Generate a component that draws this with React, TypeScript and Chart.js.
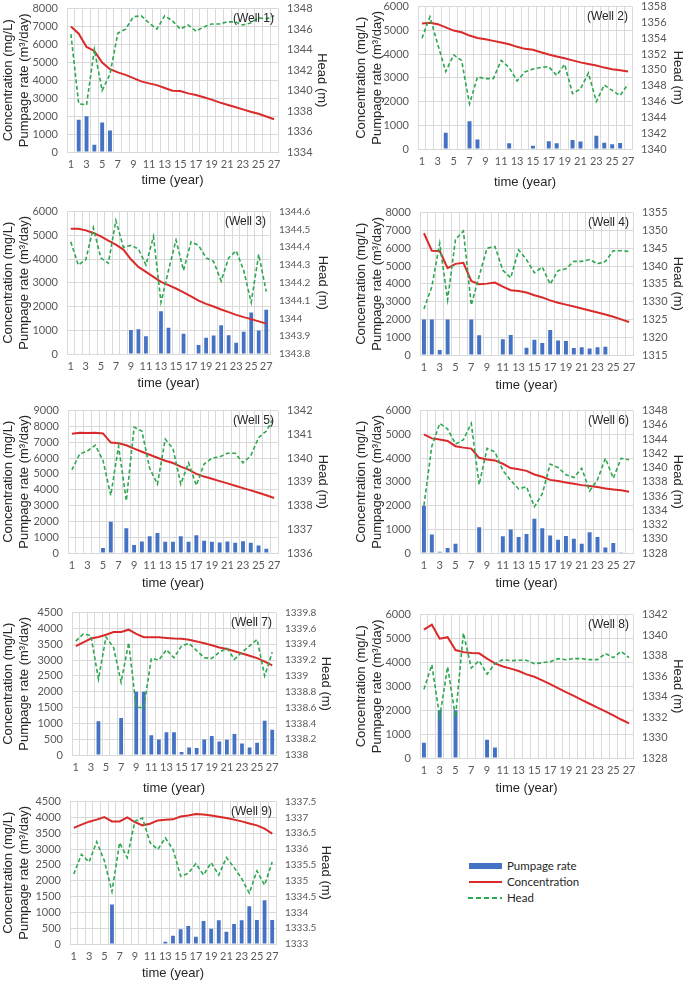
import React, { useEffect, useRef } from 'react';
import Chart from 'chart.js/auto';

const years = ['1', '2', '3', '4', '5', '6', '7', '8', '9', '10', '11', '12', '13', '14', '15', '16', '17', '18', '19', '20', '21', '22', '23', '24', '25', '26', '27'];

// Well 1
const pump1 = [0, 1800, 2000, 400, 1650, 1200, 0, 0, 0, 0, 0, 0, 0, 0, 0, 0, 0, 0, 0, 0, 0, 0, 0, 0, 0, 0, 0];
const conc1 = [7000, 6600, 5860, 5640, 4990, 4620, 4440, 4300, 4120, 3940, 3830, 3730, 3570, 3420, 3400, 3270, 3180, 3050, 2920, 2770, 2640, 2510, 2380, 2250, 2130, 1980, 1830];
const head1 = [1345.5, 1338.7, 1338.6, 1344.0, 1340.0, 1341.6, 1345.6, 1346.0, 1347.2, 1347.3, 1346.6, 1346.0, 1347.3, 1346.8, 1346.0, 1346.4, 1345.8, 1346.2, 1346.5, 1346.5, 1346.7, 1346.7, 1346.4, 1346.6, 1347.1, 1347.0, 1347.3];

// Well 2
const pump2 = [0, 0, 0, 680, 0, 0, 1170, 400, 0, 0, 0, 240, 0, 0, 140, 0, 330, 240, 0, 375, 320, 0, 555, 265, 195, 250, 0];
const conc2 = [5290, 5320, 5260, 5125, 4990, 4920, 4780, 4680, 4625, 4555, 4490, 4415, 4305, 4220, 4180, 4080, 3985, 3900, 3820, 3735, 3650, 3580, 3515, 3430, 3360, 3320, 3265];
const head2 = [1354.0, 1356.7, 1353.2, 1349.8, 1351.9, 1351.2, 1345.7, 1349.1, 1348.9, 1348.9, 1351.2, 1350.3, 1348.6, 1349.75, 1350.1, 1350.3, 1350.4, 1349.3, 1350.7, 1347.0, 1347.6, 1349.6, 1346.0, 1348.1, 1347.4, 1346.75, 1348.2];

// Well 3
const pump3 = [0, 0, 0, 0, 0, 0, 0, 0, 1010, 1040, 750, 0, 1800, 1110, 0, 850, 0, 375, 680, 780, 1210, 790, 470, 940, 1750, 990, 1860];
const conc3 = [5280, 5280, 5210, 5100, 4960, 4780, 4610, 4400, 3990, 3670, 3460, 3250, 3040, 2900, 2760, 2600, 2430, 2250, 2110, 2000, 1875, 1765, 1650, 1555, 1470, 1375, 1280];
const head3 = [1344.43, 1344.30, 1344.33, 1344.51, 1344.34, 1344.31, 1344.55, 1344.40, 1344.41, 1344.39, 1344.30, 1344.46, 1344.09, 1344.27, 1344.44, 1344.27, 1344.43, 1344.41, 1344.34, 1344.32, 1344.21, 1344.34, 1344.38, 1344.27, 1344.09, 1344.36, 1344.15];

// Well 4
const pump4 = [2000, 2000, 280, 2000, 0, 0, 2000, 1110, 0, 0, 890, 1130, 0, 410, 850, 670, 1400, 810, 780, 390, 440, 370, 440, 460, 0, 0, 0];
const conc4 = [6840, 5860, 5840, 4880, 5120, 5180, 4160, 3970, 4010, 4070, 3840, 3640, 3600, 3510, 3360, 3235, 3070, 2940, 2830, 2720, 2610, 2500, 2385, 2275, 2145, 2000, 1850];
const head4 = [1327.9, 1334.2, 1346.4, 1330.5, 1347.5, 1349.8, 1329.0, 1337.2, 1345.0, 1345.5, 1338.8, 1336.7, 1344.5, 1341.8, 1338.1, 1339.7, 1334.9, 1338.7, 1339.2, 1341.3, 1341.3, 1341.8, 1340.6, 1341.3, 1344.3, 1344.3, 1344.1];

// Well 5
const pump5 = [0, 0, 0, 0, 310, 1980, 0, 1560, 500, 730, 1060, 1270, 710, 710, 1060, 710, 1125, 770, 710, 670, 730, 650, 750, 650, 480, 270, 0];
const conc5 = [7540, 7600, 7580, 7600, 7560, 6980, 6940, 6810, 6600, 6400, 6210, 6020, 5830, 5690, 5460, 5270, 5000, 4830, 4690, 4540, 4400, 4250, 4100, 3960, 3810, 3650, 3480];
const head5 = [1339.5, 1340.17, 1340.3, 1340.54, 1339.9, 1338.43, 1340.5, 1338.2, 1341.3, 1341.14, 1339.57, 1338.9, 1340.8, 1340.4, 1338.9, 1339.8, 1338.85, 1339.75, 1340.0, 1340.05, 1340.2, 1340.2, 1339.8, 1340.1, 1340.86, 1341.14, 1341.72];

// Well 6
const pump6 = [1990, 780, 55, 210, 390, 0, 0, 1080, 0, 0, 710, 985, 670, 800, 1440, 1040, 735, 555, 720, 600, 390, 875, 670, 235, 420, 30, 0];
const conc6 = [5000, 4830, 4780, 4720, 4500, 4440, 4400, 4010, 3940, 3900, 3760, 3580, 3530, 3460, 3310, 3210, 3080, 3030, 2970, 2920, 2860, 2820, 2780, 2720, 2680, 2640, 2580];
const head6 = [1334.7, 1343.0, 1346.2, 1345.4, 1343.3, 1343.9, 1346.2, 1337.6, 1342.7, 1342.2, 1339.6, 1338.2, 1337.0, 1337.3, 1334.5, 1336.3, 1340.5, 1340.0, 1339.0, 1338.6, 1339.9, 1336.7, 1338.3, 1341.3, 1338.5, 1341.3, 1341.1];

// Well 7
const pump7 = [0, 0, 0, 1070, 0, 0, 1170, 0, 2000, 2000, 625, 490, 720, 720, 95, 240, 220, 490, 600, 430, 480, 660, 365, 240, 385, 1080, 800];
const conc7 = [3440, 3560, 3680, 3730, 3800, 3885, 3885, 3960, 3830, 3720, 3720, 3720, 3700, 3680, 3670, 3640, 3590, 3530, 3470, 3400, 3350, 3280, 3210, 3135, 3060, 2950, 2830];
const head7 = [1339.44, 1339.53, 1339.51, 1338.96, 1339.49, 1339.36, 1338.92, 1339.42, 1338.6, 1338.6, 1339.22, 1339.2, 1339.33, 1339.23, 1339.38, 1339.41, 1339.32, 1339.23, 1339.22, 1339.3, 1339.35, 1339.21, 1339.3, 1339.38, 1339.46, 1339.0, 1339.3];

// Well 8
const pump8 = [640, 0, 1995, 0, 2000, 0, 0, 0, 760, 440, 0, 0, 0, 0, 0, 0, 0, 0, 0, 0, 0, 0, 0, 0, 0, 0, 0];
const conc8 = [5370, 5580, 4990, 5055, 4515, 4430, 4390, 4380, 4155, 3960, 3830, 3740, 3640, 3500, 3400, 3250, 3090, 2920, 2760, 2600, 2430, 2270, 2110, 1950, 1780, 1610, 1450];
const head8 = [1334.7, 1337.1, 1332.0, 1336.9, 1332.0, 1340.2, 1336.8, 1337.5, 1336.2, 1337.2, 1337.6, 1337.5, 1337.55, 1337.55, 1337.2, 1337.3, 1337.4, 1337.7, 1337.6, 1337.7, 1337.7, 1337.6, 1337.6, 1338.2, 1337.8, 1338.4, 1337.8];

// Well 9
const pump9 = [0, 0, 0, 0, 0, 1250, 0, 0, 0, 0, 0, 0, 75, 260, 470, 570, 230, 730, 480, 750, 385, 635, 750, 1190, 760, 1385, 760];
const conc9 = [3670, 3770, 3865, 3930, 4010, 3875, 3875, 4000, 3855, 3750, 3800, 3905, 3930, 3940, 4030, 4060, 4105, 4095, 4060, 4020, 3980, 3930, 3875, 3810, 3750, 3645, 3490];
const head9 = [1335.21, 1335.83, 1335.59, 1336.23, 1335.63, 1334.66, 1336.2, 1335.73, 1336.88, 1336.98, 1336.2, 1335.99, 1336.35, 1335.99, 1335.14, 1335.23, 1335.54, 1335.18, 1335.57, 1335.18, 1335.73, 1335.42, 1335.07, 1334.61, 1335.31, 1334.86, 1335.59];

const wells = [
  { label: '(Well 1)', pump: pump1, conc: conc1, head: head1, concMax: 8000, concStep: 1000, headMin: 1334, headMax: 1348, headStep: 2 },
  { label: '(Well 2)', pump: pump2, conc: conc2, head: head2, concMax: 6000, concStep: 1000, headMin: 1340, headMax: 1358, headStep: 2 },
  { label: '(Well 3)', pump: pump3, conc: conc3, head: head3, concMax: 6000, concStep: 1000, headMin: 1343.8, headMax: 1344.6, headStep: 0.1 },
  { label: '(Well 4)', pump: pump4, conc: conc4, head: head4, concMax: 8000, concStep: 1000, headMin: 1315, headMax: 1355, headStep: 5 },
  { label: '(Well 5)', pump: pump5, conc: conc5, head: head5, concMax: 9000, concStep: 1000, headMin: 1336, headMax: 1342, headStep: 1 },
  { label: '(Well 6)', pump: pump6, conc: conc6, head: head6, concMax: 6000, concStep: 1000, headMin: 1328, headMax: 1348, headStep: 2 },
  { label: '(Well 7)', pump: pump7, conc: conc7, head: head7, concMax: 4500, concStep: 500, headMin: 1338, headMax: 1339.8, headStep: 0.2 },
  { label: '(Well 8)', pump: pump8, conc: conc8, head: head8, concMax: 6000, concStep: 1000, headMin: 1328, headMax: 1342, headStep: 2 },
  { label: '(Well 9)', pump: pump9, conc: conc9, head: head9, concMax: 4500, concStep: 500, headMin: 1333, headMax: 1337.5, headStep: 0.5 },
];

// plot-area boxes on the page (px), right-axis tick size and title inset
const panels = [
  { col: 0, l: 67, r: 278, t: 7, b: 152, gap: 28, rFont: 11, rPad: 11 },
  { col: 1, l: 418, r: 632, t: 5, b: 149, gap: 33, rFont: 11, rPad: 0 },
  { col: 0, l: 67, r: 270, t: 210, b: 354, gap: 29, rFont: 10, rPad: 10 },
  { col: 1, l: 420, r: 633, t: 211, b: 355, gap: 30, rFont: 11, rPad: 0 },
  { col: 0, l: 68, r: 278, t: 409, b: 553, gap: 30, rFont: 11, rPad: 10 },
  { col: 1, l: 420, r: 633, t: 409, b: 553, gap: 30, rFont: 11, rPad: 0 },
  { col: 0, l: 72, r: 276, t: 611, b: 755, gap: 33, rFont: 10, rPad: 7 },
  { col: 1, l: 420, r: 633, t: 613, b: 758, gap: 30, rFont: 11, rPad: 0 },
  { col: 0, l: 70, r: 276, t: 800, b: 944, gap: 29, rFont: 10, rPad: 7 },
];

const BLUE = '#4472C4';
const RED = '#DA2A2A';
const GREEN = '#2DA84F';
const GRID = '#D9D9D9';
const TICK = '#595959';
const TITLE = '#262626';
const tickFamily = 'Lato, "Open Sans", sans-serif';
const tickFont = { family: tickFamily, size: 11 };
const titleFont = { family: '"Liberation Sans", Arial, sans-serif', size: 13 };

const wellLabel = {
  id: 'wellLabel',
  afterDraw(chart: any, _args: any, opts: any) {
    const { ctx, chartArea } = chart;
    ctx.save();
    ctx.font = '12px "Liberation Sans", Arial, sans-serif';
    ctx.fillStyle = TITLE;
    ctx.textAlign = 'right';
    ctx.textBaseline = 'middle';
    ctx.fillText(opts.text, chartArea.right - 4, chartArea.top + 10);
    ctx.restore();
  },
};

function WellChart({ index }: { index: number }) {
  const canvasRef = useRef<HTMLCanvasElement>(null);
  const well = wells[index];
  const p = panels[index];
  const colX = p.col ? 340 : 0;
  const colW = p.col ? 345 : 340;
  const padTop = 14;
  const top = p.t - padTop;
  const height = p.b - top + p.gap + 8;

  useEffect(() => {
    if (!canvasRef.current) return;
    const chart = new Chart(canvasRef.current, {
      type: 'bar',
      data: {
        labels: years,
        datasets: [
          {
            type: 'line',
            label: 'Head',
            data: well.head,
            yAxisID: 'y1',
            borderColor: GREEN,
            borderWidth: 1.6,
            borderDash: [4, 2.5],
            pointRadius: 0,
            tension: 0,
            order: 0,
          },
          {
            type: 'line',
            label: 'Concentration',
            data: well.conc,
            yAxisID: 'y',
            borderColor: RED,
            borderWidth: 2,
            pointRadius: 0,
            tension: 0,
            order: 1,
          },
          {
            type: 'bar',
            label: 'Pumpage rate',
            data: well.pump,
            yAxisID: 'y',
            backgroundColor: BLUE,
            barPercentage: 0.5,
            categoryPercentage: 1,
            order: 2,
          },
        ],
      },
      options: {
        animation: false,
        responsive: true,
        maintainAspectRatio: false,
        events: [],
        layout: { padding: { top: padTop, left: 0, right: 0, bottom: 0 } },
        plugins: {
          legend: { display: false },
          tooltip: { enabled: false },
          wellLabel: { text: well.label },
        } as any,
        scales: {
          x: {
            type: 'category',
            offset: true,
            grid: { color: GRID, offset: true, drawTicks: false },
            border: { color: GRID },
            ticks: {
              autoSkip: false,
              maxRotation: 0,
              minRotation: 0,
              padding: 6,
              color: TICK,
              font: tickFont,
              callback: (_v: any, i: number) => (i % 2 === 0 ? years[i] : ''),
            },
            title: { display: true, text: 'time (year)', font: titleFont, color: TITLE, padding: 0 },
            afterFit: (s: any) => { s.height = p.gap + 8; },
          },
          y: {
            position: 'left',
            min: 0,
            max: well.concMax,
            ticks: {
              stepSize: well.concStep,
              autoSkip: false,
              color: TICK,
              font: tickFont,
              padding: 9,
              callback: (v: any) => String(v),
            },
            grid: { color: GRID, drawTicks: false },
            border: { display: false },
            title: {
              display: true,
              text: ['Concentration (mg/L)', 'Pumpage rate (m³/day)'],
              font: titleFont,
              color: TITLE,
              padding: { top: p.col ? 14 : 1, bottom: 0 },
            },
            afterFit: (s: any) => { s.width = p.l - colX; },
          },
          y1: {
            position: 'right',
            min: well.headMin,
            max: well.headMax,
            ticks: {
              stepSize: well.headStep,
              autoSkip: false,
              color: TICK,
              font: { family: tickFamily, size: p.rFont },
              padding: 9,
              callback: (v: any) => String(Math.round(v * 100) / 100),
            },
            grid: { display: false, drawTicks: false },
            border: { display: false },
            title: {
              display: true,
              text: 'Head (m)',
              font: titleFont,
              color: TITLE,
              padding: { top: p.rPad, bottom: 0 },
            },
            afterFit: (s: any) => { s.width = colX + colW - p.r; },
          },
        },
      },
      plugins: [wellLabel],
    } as any);
    return () => chart.destroy();
  }, [index]);

  return (
    <div style={{ position: 'absolute', left: colX, top, width: colW, height }}>
      <canvas ref={canvasRef}></canvas>
    </div>
  );
}

const legendText: React.CSSProperties = {
  position: 'absolute',
  left: 507,
  font: '11.5px Lato, "Open Sans", sans-serif',
  color: TITLE,
  lineHeight: '14px',
};

export default function App() {
  return (
    <div style={{ position: 'absolute', left: 0, top: 0, width: 685, height: 982, background: '#fff', overflow: 'hidden' }}>
      {wells.map((_, i) => (
        <WellChart key={i} index={i} />
      ))}
      <div style={{ position: 'absolute', left: 469, top: 863, width: 33, height: 6, background: BLUE }} />
      <div style={{ ...legendText, top: 859 }}>Pumpage rate</div>
      <div style={{ position: 'absolute', left: 469, top: 881, width: 33, height: 2, background: RED }} />
      <div style={{ ...legendText, top: 875 }}>Concentration</div>
      <div
        style={{
          position: 'absolute',
          left: 468,
          top: 897,
          width: 34,
          height: 2,
          background: `repeating-linear-gradient(to right, ${GREEN} 0px, ${GREEN} 5px, transparent 5px, transparent 8px)`,
        }}
      />
      <div style={{ ...legendText, top: 891 }}>Head</div>
    </div>
  );
}
